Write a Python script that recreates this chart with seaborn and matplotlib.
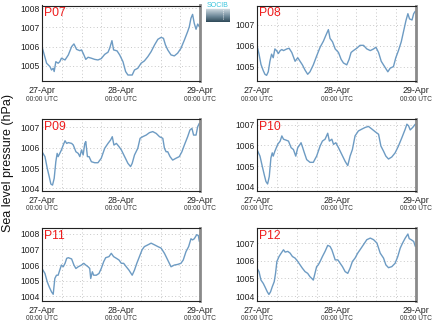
import numpy as np
import pandas as pd
import matplotlib
matplotlib.use("Agg")
import matplotlib.pyplot as plt
import matplotlib.dates as mdates
import seaborn as sns

# Hourly offsets from 27-Apr 00:00 UTC and sea level pressure (hPa) per station
p07_hours = [0, 1.4, 2.4, 2.9, 3.4, 3.7, 4.2, 4.9, 5.4, 5.9, 7.0, 8.0, 9.0, 9.7, 10.5, 11.5, 12.0, 12.5,
             13.3, 14.0, 15.0, 16.0, 17.0, 18.0, 19.05, 20.05, 20.55, 21.25, 21.75, 22.8, 23.6, 24.6,
             25.4, 26.1, 27.4, 28.1, 29.1, 30.1, 31.1, 32.15, 33.15, 34.2, 35.2, 36.2, 36.9, 37.5,
             38.2, 39.2, 40.2, 41.2, 42.2, 43.25, 44.25, 44.75, 45.25, 45.75, 46.25, 46.8, 47.3, 47.8]
p07_slp = [1006.00, 1005.14, 1004.97, 1004.79, 1004.88, 1004.71, 1005.22, 1005.14, 1005.22, 1005.40,
           1005.31, 1005.57, 1006.00, 1006.14, 1005.86, 1005.79, 1005.83, 1005.66, 1005.34, 1005.45,
           1005.40, 1005.34, 1005.31, 1005.38, 1005.60, 1005.71, 1005.91, 1006.31, 1005.83, 1005.78,
           1005.57, 1005.22, 1004.71, 1004.53, 1004.53, 1004.79, 1004.88, 1005.14, 1005.26, 1005.48,
           1005.74, 1006.09, 1006.38, 1006.48, 1006.43, 1006.09, 1005.83, 1005.57, 1005.52, 1005.66,
           1005.91, 1006.34, 1006.78, 1007.03, 1007.47, 1007.67, 1007.21, 1006.90, 1007.17, 1007.03]

p08_hours = [0, 0.6, 1.2, 1.9, 2.4, 2.9, 3.4, 3.9, 4.4, 4.9, 5.4, 5.9, 6.45, 7.0, 7.5, 8.0, 9.0, 9.7,
             10.5, 11.5, 12.3, 13.0, 13.7, 14.5, 15.3, 16.0, 17.0, 18.0, 19.05, 20.05, 20.85, 21.55,
             22.05, 22.8, 23.6, 24.6, 25.4, 26.1, 27.1, 27.8, 28.4, 29.1, 30.1, 31.1, 32.15, 33.15,
             34.2, 35.2, 35.9, 36.7, 37.5, 38.5, 39.5, 40.2, 41.2, 41.9, 42.7, 43.55, 44.25, 44.95,
             45.55, 46.05, 46.8, 47.3, 47.8]
p08_slp = [1006.00, 1005.60, 1005.10, 1004.80, 1004.63, 1004.58, 1004.75, 1005.25, 1005.59, 1005.42,
           1005.84, 1005.76, 1005.62, 1005.76, 1005.81, 1005.76, 1005.84, 1005.87, 1005.67, 1005.25,
           1005.42, 1005.25, 1005.08, 1004.83, 1004.63, 1004.75, 1005.08, 1005.50, 1005.92, 1006.21,
           1006.51, 1006.76, 1006.34, 1006.18, 1005.84, 1005.67, 1005.34, 1005.17, 1005.08, 1005.34,
           1005.67, 1005.76, 1005.87, 1006.01, 1006.01, 1005.84, 1005.76, 1005.84, 1005.92, 1005.67,
           1005.25, 1005.00, 1004.75, 1004.92, 1005.00, 1005.42, 1005.76, 1006.18, 1006.68, 1007.18,
           1007.52, 1007.27, 1007.22, 1007.52, 1007.64]

p09_hours = [0, 0.9, 1.6, 2.2, 2.7, 3.2, 3.7, 4.2, 4.6, 4.9, 5.4, 5.9, 6.45, 7.0, 7.5, 8.0, 9.0, 9.5,
             10.3, 11.0, 11.5, 12.0, 12.5, 13.0, 13.3, 13.8, 14.3, 15.0, 16.0, 17.0, 18.0, 19.05,
             20.05, 20.85, 21.35, 21.85, 22.6, 23.4, 24.1, 25.1, 26.1, 26.9, 27.4, 28.1, 29.1, 29.8,
             30.6, 31.65, 32.65, 33.65, 34.7, 35.7, 36.7, 37.2, 37.7, 38.2, 38.9, 39.7, 40.7, 41.7,
             42.5, 43.25, 44.25, 44.95, 45.55, 46.05, 46.8, 47.3, 47.8]
p09_slp = [1005.80, 1005.56, 1004.98, 1004.57, 1004.21, 1004.16, 1004.49, 1005.31, 1005.72, 1005.56,
           1005.72, 1005.89, 1006.13, 1006.34, 1006.21, 1006.25, 1006.21, 1006.13, 1005.80, 1005.72,
           1005.56, 1005.89, 1005.64, 1006.21, 1006.30, 1005.56, 1005.56, 1005.31, 1005.26, 1005.26,
           1005.48, 1005.97, 1006.21, 1006.38, 1006.54, 1006.13, 1006.21, 1006.05, 1005.89, 1005.56,
           1005.23, 1005.07, 1005.23, 1005.64, 1005.97, 1006.46, 1006.54, 1006.62, 1006.74, 1006.79,
           1006.70, 1006.54, 1006.46, 1005.97, 1005.80, 1005.80, 1005.56, 1005.39, 1005.48, 1005.56,
           1005.80, 1006.13, 1006.54, 1006.87, 1006.95, 1006.62, 1006.62, 1007.03, 1007.20]

p10_hours = [0, 0.9, 1.6, 2.2, 2.7, 3.2, 3.7, 4.2, 4.6, 4.9, 5.4, 6.25, 7.0, 7.5, 8.0, 8.7, 9.5, 10.3,
             11.0, 11.7, 12.3, 13.0, 13.3, 13.8, 14.3, 15.0, 16.0, 17.0, 18.0, 19.05, 19.75, 20.55,
             21.35, 21.85, 22.6, 23.1, 23.8, 24.6, 25.6, 26.6, 27.4, 28.1, 28.8, 29.6, 30.6, 31.65,
             32.65, 33.65, 34.7, 35.7, 36.7, 37.4, 38.2, 38.9, 39.7, 40.7, 41.7, 42.7, 43.75, 44.75,
             45.25, 45.75, 46.25, 47.0, 47.8]
p10_slp = [1005.80, 1005.48, 1004.98, 1004.57, 1004.25, 1004.13, 1004.49, 1005.39, 1005.64, 1005.48,
           1005.72, 1006.05, 1006.21, 1006.46, 1006.30, 1006.26, 1006.21, 1005.89, 1005.80, 1005.48,
           1005.89, 1006.05, 1006.13, 1005.89, 1005.64, 1005.31, 1005.18, 1005.18, 1005.48, 1005.97,
           1006.21, 1006.30, 1006.59, 1006.21, 1006.30, 1006.05, 1006.13, 1005.89, 1005.56, 1005.23,
           1005.02, 1005.48, 1005.80, 1006.46, 1006.70, 1006.79, 1006.87, 1006.92, 1006.79, 1006.66,
           1006.54, 1005.97, 1005.72, 1005.48, 1005.34, 1005.44, 1005.64, 1005.97, 1006.38, 1006.79,
           1007.03, 1006.95, 1006.75, 1006.87, 1007.03]

p11_hours = [0, 0.9, 1.6, 2.2, 2.9, 3.4, 3.9, 4.4, 4.9, 5.4, 5.9, 6.45, 7.0, 7.5, 8.0, 9.0, 9.7, 10.3,
             11.0, 12.0, 12.7, 13.3, 14.0, 14.5, 14.8, 15.3, 15.7, 16.5, 17.3, 18.0, 18.75, 19.35,
             20.35, 21.05, 21.75, 22.6, 23.4, 24.1, 24.8, 25.6, 26.4, 27.4, 28.1, 28.8, 29.6, 30.4,
             31.1, 32.15, 33.15, 34.2, 35.2, 36.2, 37.2, 38.2, 39.2, 40.2, 41.2, 42.2, 42.9, 43.75,
             44.55, 45.25, 45.75, 46.25, 47.0, 47.5, 47.8]
p11_slp = [1005.78, 1005.46, 1004.92, 1004.60, 1004.28, 1004.13, 1005.14, 1005.35, 1005.35, 1005.68,
           1006.00, 1005.89, 1006.11, 1006.43, 1006.47, 1006.39, 1006.00, 1005.78, 1005.89, 1006.00,
           1006.11, 1006.00, 1005.89, 1005.78, 1005.14, 1005.57, 1005.35, 1005.35, 1005.46, 1005.78,
           1006.22, 1006.47, 1006.54, 1006.75, 1006.54, 1006.43, 1006.32, 1006.11, 1006.11, 1005.89,
           1005.68, 1005.35, 1005.68, 1006.11, 1006.54, 1006.97, 1007.18, 1007.29, 1007.40, 1007.29,
           1007.18, 1007.08, 1006.75, 1006.32, 1005.89, 1006.00, 1006.04, 1006.11, 1006.32, 1006.86,
           1007.18, 1007.68, 1007.61, 1007.68, 1007.94, 1007.89, 1007.51]

p12_hours = [0, 0.6, 1.2, 1.9, 2.4, 3.1, 3.6, 4.1, 4.6, 5.2, 5.6, 6.0, 6.65, 7.3, 8.0, 8.5, 9.3, 10.0,
             10.7, 11.5, 12.3, 13.0, 13.7, 14.5, 15.3, 16.0, 16.5, 17.0, 17.5, 18.0, 18.5, 19.05,
             19.75, 20.55, 21.35, 22.05, 22.6, 23.1, 23.6, 24.4, 25.1, 25.8, 26.6, 27.4, 28.1, 28.8,
             29.6, 30.4, 31.1, 32.15, 33.15, 34.2, 35.2, 36.2, 37.2, 38.2, 38.9, 39.7, 40.7, 41.7,
             42.5, 43.25, 43.95, 44.75, 45.55, 45.95, 46.55, 47.3, 47.8]
p12_slp = [1005.58, 1005.39, 1004.91, 1004.72, 1004.53, 1004.25, 1004.10, 1004.25, 1004.53, 1004.82,
           1005.29, 1005.96, 1006.24, 1006.43, 1006.62, 1006.49, 1006.53, 1006.43, 1006.24, 1006.15,
           1005.96, 1005.77, 1005.58, 1005.39, 1005.29, 1005.10, 1005.01, 1004.91, 1005.29, 1005.67,
           1005.77, 1005.96, 1006.24, 1006.53, 1006.87, 1006.81, 1006.62, 1006.34, 1006.05, 1006.05,
           1005.86, 1005.67, 1005.39, 1005.29, 1005.58, 1005.96, 1006.15, 1006.43, 1006.62, 1006.91,
           1007.19, 1007.28, 1007.19, 1007.00, 1006.43, 1006.15, 1005.77, 1005.61, 1005.67, 1005.86,
           1006.24, 1006.72, 1007.00, 1007.28, 1007.51, 1007.25, 1007.19, 1007.09, 1006.81]

stations = ["P07", "P08", "P09", "P10", "P11", "P12"]
hours = [p07_hours, p08_hours, p09_hours, p10_hours, p11_hours, p12_hours]
slp = [p07_slp, p08_slp, p09_slp, p10_slp, p11_slp, p12_slp]
y_limits = [(1004.22, 1008.13), (1004.31, 1007.91), (1003.87, 1007.41),
            (1003.79, 1007.28), (1003.70, 1008.37), (1003.73, 1007.85)]
day_labels = ["27-Apr", "28-Apr", "29-Apr"]
time_label = "00:00 UTC"

start = pd.Timestamp("2016-04-27 00:00")
end = start + pd.Timedelta(hours=48)

sns.set_theme(style="white")
plt.rcParams["font.family"] = ["Liberation Sans", "DejaVu Sans"]

W, H = 435, 327
fig = plt.figure(figsize=(W / 100, H / 100), dpi=100)

col_px = [(42, 200), (257, 416)]
row_px = [(5.5, 81), (119, 191), (228, 301)]

line_color = "#6d9bc3"
grid_kw = dict(color="#c8c8c8", linestyle=(0, (1, 2.5)), linewidth=0.7)

for i, name in enumerate(stations):
    r, c = divmod(i, 2)
    x0, x1 = col_px[c]
    t0, t1 = row_px[r]
    ax = fig.add_axes([x0 / W, 1 - t1 / H, (x1 - x0) / W, (t1 - t0) / H])

    df = pd.DataFrame({
        "time": start + pd.to_timedelta(hours[i], unit="h"),
        "slp": slp[i],
    })
    sns.lineplot(data=df, x="time", y="slp", ax=ax, color=line_color, linewidth=1.0)

    ax.set_xlim(start, end)
    ax.set_ylim(*y_limits[i])
    ax.set_xlabel("")
    ax.set_ylabel("")

    ax.xaxis.set_major_locator(mdates.HourLocator(byhour=[0]))
    ax.xaxis.set_major_formatter(mdates.DateFormatter("%d-%b"))
    ax.xaxis.set_minor_locator(mdates.HourLocator(byhour=[6, 12, 18]))
    ax.yaxis.set_major_locator(matplotlib.ticker.MultipleLocator(1))
    ax.yaxis.set_major_formatter(matplotlib.ticker.FormatStrFormatter("%d"))

    ax.grid(True, which="both", axis="x", **grid_kw)
    ax.grid(True, which="major", axis="y", **grid_kw)

    ax.tick_params(axis="both", which="both", length=0)
    ax.tick_params(axis="y", labelsize=6.2, pad=1.5, colors="#222222")
    ax.tick_params(axis="x", labelsize=6.4, pad=3.5, colors="#222222")

    for side in ["left", "top", "bottom"]:
        ax.spines[side].set_color("#222222")
        ax.spines[side].set_linewidth(0.8)
    ax.spines["right"].set_color("#8a8a8a")
    ax.spines["right"].set_linewidth(2.0)

    for k in range(3):
        ax.text(start + pd.Timedelta(hours=24 * k), -0.24, time_label,
                transform=ax.get_xaxis_transform(), ha="center", va="center",
                fontsize=4.8, color="#333333")

    ax.text(0.012, 0.975, name, transform=ax.transAxes, ha="left", va="top",
            fontsize=8.7, color="#ee1c1c")

fig.text(8 / W, 1 - 163 / H, "Sea level pressure (hPa)", rotation=90,
         ha="center", va="center", fontsize=9, color="#111111")

# small institutional badge at the top centre
logo = fig.add_axes([206 / W, 1 - 22 / H, 24 / W, 20 / H])
grad = np.concatenate([np.zeros(22), np.linspace(0.25, 1, 42)]).reshape(-1, 1)
cmap = matplotlib.colors.LinearSegmentedColormap.from_list(
    "badge", ["#ffffff", "#b9c8d1", "#6f8a9a", "#2f4a59"])
logo.imshow(grad, aspect="auto", cmap=cmap, extent=[0, 1, 0, 1], origin="upper")
logo.plot([0.72, 0.72], [0.15, 0.6], color="white", linestyle=(0, (1, 1.5)), linewidth=0.6)
logo.set_xlim(0, 1)
logo.set_ylim(0, 1)
logo.set_axis_off()
logo.text(0.5, 1.0, "SOCIB", transform=logo.transAxes, ha="center", va="top",
          fontsize=5, color="#38c4dc")

fig.savefig("out.png", dpi=100)
